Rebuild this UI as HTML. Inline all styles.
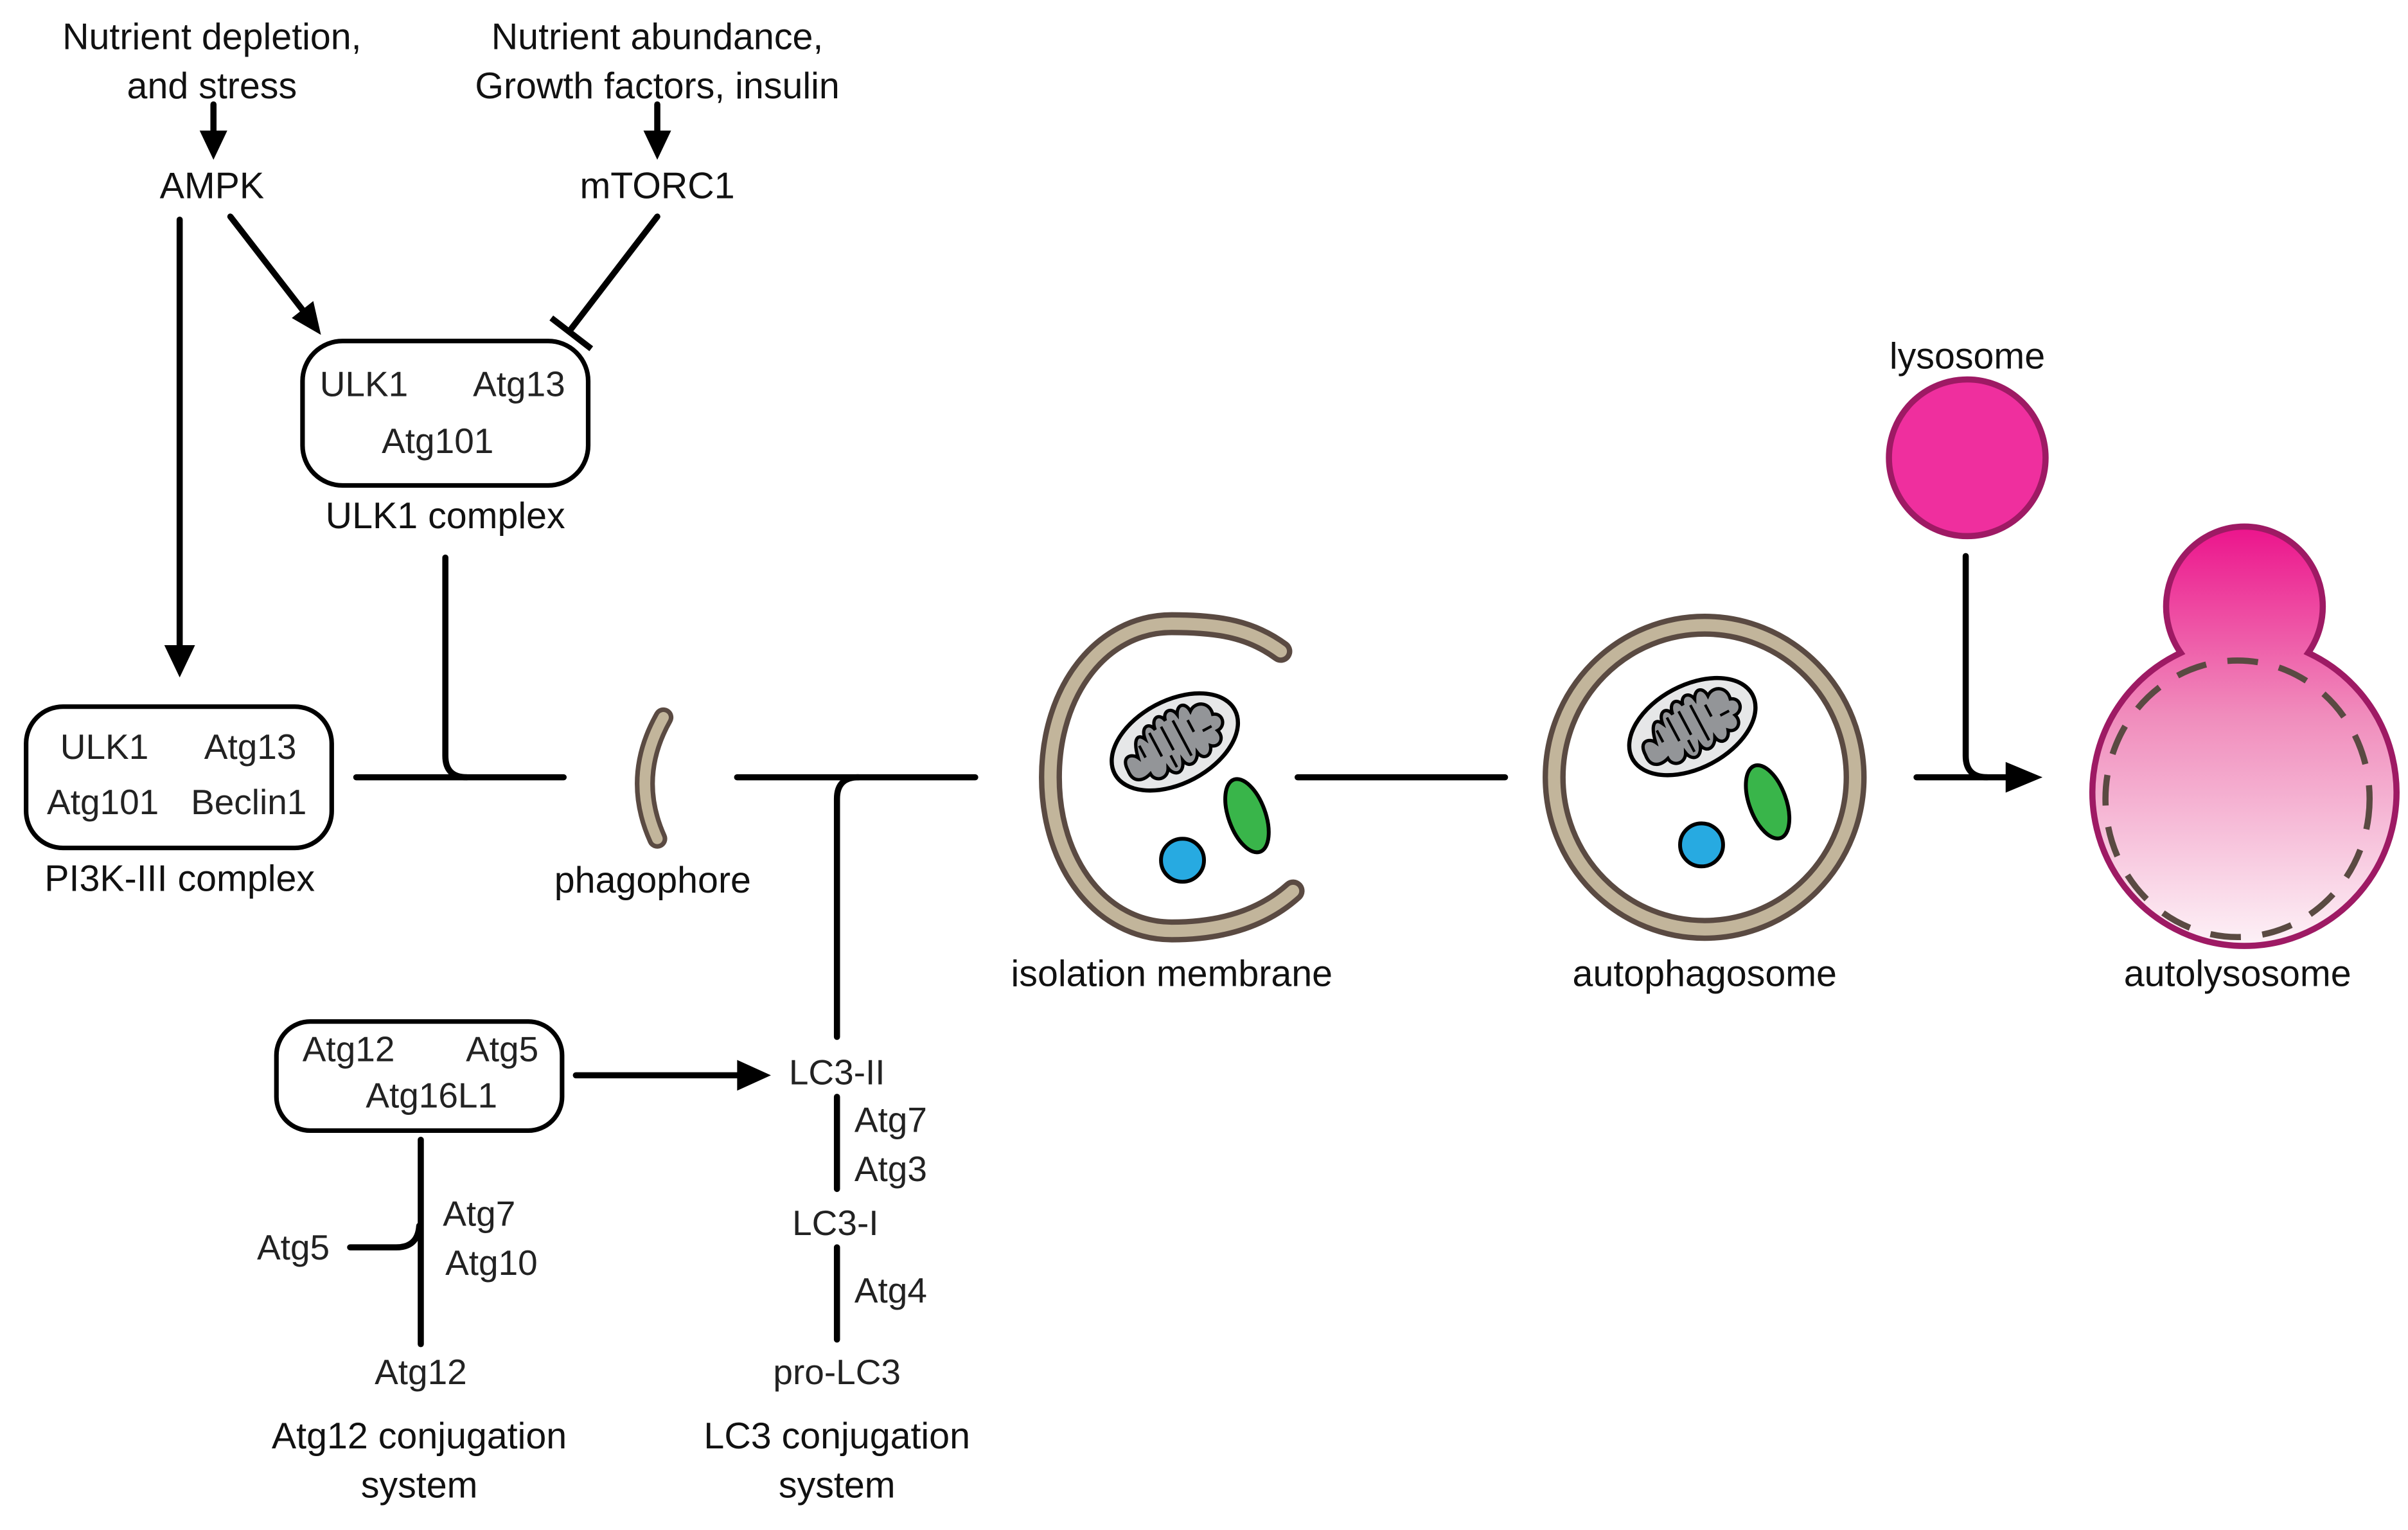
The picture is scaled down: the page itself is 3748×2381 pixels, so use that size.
<!DOCTYPE html>
<html><head><meta charset="utf-8"><style>
html,body{margin:0;padding:0;background:#fff;}
svg{display:block;}
text{font-family:"Liberation Sans",sans-serif;fill:#111;text-anchor:middle;dominant-baseline:central;}
.t{font-size:24px;}
.b{font-size:23px;fill:#222;}
</style></head><body>
<svg width="3748" height="2381" viewBox="0 0 1568 996" preserveAspectRatio="none" xmlns="http://www.w3.org/2000/svg">
<defs>
<linearGradient id="pg" x1="0" y1="0" x2="0" y2="1">
<stop offset="0" stop-color="#ec148c"/><stop offset="0.45" stop-color="#f08cbc"/><stop offset="1" stop-color="#fdf2f7"/>
</linearGradient>
<g id="mito">
<ellipse cx="0" cy="0" rx="41" ry="25" fill="#e6e7e8" stroke="#000" stroke-width="2.5"/>
<path d="M-33 2 C-33 -8 -26 -6 -24 -2 C-22 -12 -18 -16 -15 -10 C-14 -18 -8 -18 -7 -12 C-6 -20 0 -20 1 -14 C2 -20 8 -20 9 -14 C12 -20 17 -18 17 -12 C22 -16 30 -12 28 -4 C34 -2 32 6 26 6 C28 12 22 16 18 12 C16 18 10 18 9 12 C6 18 0 18 -1 12 C-4 20 -10 18 -11 12 C-14 18 -22 16 -22 10 C-28 12 -34 10 -33 2 Z" fill="#939598" stroke="#000" stroke-width="2"/>
<path d="M-20 0 L-20 -8 M-11 4 L-11 -12 M-3 4 L-3 -12 M5 4 L5 -12 M13 0 L13 -8 M-6 6 L-6 14 M5 4 L5 12 M18 2 L24 2" stroke="#000" stroke-width="1.6" fill="none"/>
</g>
</defs>

<text class="t" x="138" y="24">Nutrient depletion,</text>
<text class="t" x="138" y="56">and stress</text>
<text class="t" x="428" y="24">Nutrient abundance,</text>
<text class="t" x="428" y="56">Growth factors, insulin</text>
<text class="t" x="138" y="121">AMPK</text>
<text class="t" x="428" y="121">mTORC1</text>

<g stroke="#000" stroke-width="4" fill="none" stroke-linecap="round">
<line x1="139" y1="68" x2="139" y2="90"/>
<line x1="428" y1="68" x2="428" y2="90"/>
<line x1="117" y1="143" x2="117" y2="425"/>
<line x1="150" y1="141" x2="198" y2="203"/>
<line x1="428" y1="141" x2="372" y2="214"/>
<line x1="359" y1="207" x2="385" y2="227" stroke-linecap="butt"/>
<line x1="232" y1="506" x2="367" y2="506"/>
<path d="M290 363 L290 492 Q290 506 304 506"/>
<line x1="480" y1="506" x2="635" y2="506"/>
<path d="M545 675 L545 520 Q545 506 559 506"/>
<line x1="845" y1="506" x2="980" y2="506"/>
<line x1="1248" y1="506" x2="1312" y2="506"/>
<path d="M1280 362 L1280 492 Q1280 506 1294 506"/>
<line x1="375" y1="700" x2="485" y2="700"/>
<line x1="545" y1="714" x2="545" y2="774"/>
<line x1="545" y1="812" x2="545" y2="872"/>
<line x1="274" y1="742" x2="274" y2="875"/>
<path d="M228 812 L258 812 Q272 812 273 798"/>
</g>
<g fill="#000">
<polygon points="130,85 148,85 139,104"/>
<polygon points="419,85 437,85 428,104"/>
<polygon points="107,420 127,420 117,441"/>
<polygon points="190,207 204,196 209,218"/>
<polygon points="1306,496 1306,516 1330,506"/>
<polygon points="480,690 480,710 502,700"/>
</g>

<rect x="197" y="222" width="186" height="94" rx="26" fill="#fff" stroke="#000" stroke-width="3"/>
<text class="b" x="237" y="250">ULK1</text>
<text class="b" x="338" y="250">Atg13</text>
<text class="b" x="285" y="287">Atg101</text>
<text class="t" x="290" y="336">ULK1 complex</text>

<rect x="17" y="460" width="199" height="92" rx="24" fill="#fff" stroke="#000" stroke-width="3"/>
<text class="b" x="68" y="486">ULK1</text>
<text class="b" x="163" y="486">Atg13</text>
<text class="b" x="67" y="522">Atg101</text>
<text class="b" x="162" y="522">Beclin1</text>
<text class="t" x="117" y="572">PI3K-III complex</text>

<path d="M432 467 Q410 506 428 546" stroke="#5a4a42" stroke-width="13" fill="none" stroke-linecap="round"/>
<path d="M432 467 Q410 506 428 546" stroke="#c2b59b" stroke-width="7" fill="none" stroke-linecap="round"/>
<text class="t" x="425" y="573">phagophore</text>

<path d="M834 424 C815 410 795 406 763 406 C717 406 684 450 684 506 C684 562 717 606 763 606 C795 606 822 598 842 580" stroke="#5a4a42" stroke-width="15" fill="none" stroke-linecap="round"/>
<path d="M834 424 C815 410 795 406 763 406 C717 406 684 450 684 506 C684 562 717 606 763 606 C795 606 822 598 842 580" stroke="#c2b59b" stroke-width="8" fill="none" stroke-linecap="round"/>
<use href="#mito" transform="translate(765 483) rotate(-28) scale(1.08)"/>
<ellipse cx="812" cy="531" rx="12" ry="25" transform="rotate(-20 812 531)" fill="#39b54a" stroke="#000" stroke-width="2.5"/>
<circle cx="770" cy="560" r="14" fill="#27aae1" stroke="#000" stroke-width="2.5"/>
<text class="t" x="763" y="634">isolation membrane</text>

<ellipse cx="1110" cy="506" rx="98" ry="99" stroke="#5a4a42" stroke-width="15" fill="none"/>
<ellipse cx="1110" cy="506" rx="98" ry="99" stroke="#c2b59b" stroke-width="8" fill="none"/>
<use href="#mito" transform="translate(1102 473) rotate(-28) scale(1.08)"/>
<ellipse cx="1151" cy="522" rx="12" ry="25" transform="rotate(-20 1151 522)" fill="#39b54a" stroke="#000" stroke-width="2.5"/>
<circle cx="1108" cy="550" r="14" fill="#27aae1" stroke="#000" stroke-width="2.5"/>
<text class="t" x="1110" y="634">autophagosome</text>

<text class="t" x="1281" y="232">lysosome</text>
<circle cx="1281" cy="298" r="51" fill="#ef2f9e" stroke="#9e1a64" stroke-width="4"/>

<path d="M1420 425 A51 52 0 1 1 1503 425 A99 100 0 1 1 1420 425 Z" fill="url(#pg)" stroke="#9e1a64" stroke-width="4"/>
<ellipse cx="1457" cy="520" rx="86" ry="90" fill="none" stroke="#5a4a42" stroke-width="4" stroke-dasharray="20 14"/>
<text class="t" x="1457" y="634">autolysosome</text>

<rect x="180" y="665" width="186" height="71" rx="22" fill="#fff" stroke="#000" stroke-width="3"/>
<text class="b" x="227" y="683">Atg12</text>
<text class="b" x="327" y="683">Atg5</text>
<text class="b" x="281" y="713">Atg16L1</text>
<text class="b" x="191" y="812">Atg5</text>
<text class="b" x="312" y="790">Atg7</text>
<text class="b" x="320" y="822">Atg10</text>
<text class="b" x="274" y="893">Atg12</text>
<text class="t" x="273" y="935">Atg12 conjugation</text>
<text class="t" x="273" y="967">system</text>

<text class="b" x="545" y="698">LC3-II</text>
<text class="b" x="580" y="729">Atg7</text>
<text class="b" x="580" y="761">Atg3</text>
<text class="b" x="544" y="796">LC3-I</text>
<text class="b" x="580" y="840">Atg4</text>
<text class="b" x="545" y="893">pro-LC3</text>
<text class="t" x="545" y="935">LC3 conjugation</text>
<text class="t" x="545" y="967">system</text>
</svg>
</body></html>
